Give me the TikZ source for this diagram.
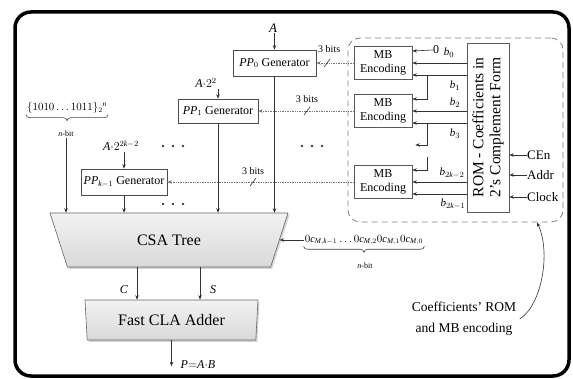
\documentclass[tikz,border=0pt]{standalone}
\usepackage{fontspec}
\setmainfont{Liberation Serif}
\usetikzlibrary{shapes.geometric, shadows, calc, arrows.meta}
\begin{document}
\begin{tikzpicture}[x=1pt, y=-1pt,
  >={Stealth[length=4.5pt,width=3.5pt]},
  gen/.style={draw=black!70, line width=0.7pt, inner sep=1pt, font=\fontsize{12}{14}\selectfont},
  mbbox/.style={draw=black!65, line width=0.7pt, minimum width=58pt, minimum height=33pt, align=center, font=\fontsize{12}{13.5}\selectfont, inner sep=0pt},
  sig/.style={draw=black!80, line width=0.6pt},
  bus/.style={draw=black!55, line width=0.7pt, densely dotted},
  lbl/.style={font=\fontsize{11}{12}\selectfont, inner sep=0pt},
  ctl/.style={font=\fontsize{13}{14}\selectfont, inner sep=0pt, anchor=west},
  bitslbl/.style={font=\fontsize{10}{12}\selectfont, inner sep=0pt},
  dotmark/.style={fill=black!75},
  bracepath/.style={draw=black!75, line width=0.6pt},
  blockshape/.style={trapezium, trapezium stretches body, shape border rotate=180, draw=black!60, line width=0.6pt, top color=black!5, bottom color=black!15, drop shadow={shadow xshift=1.5pt, shadow yshift=-2pt, opacity=0.35}, font=\fontsize{16}{18}\selectfont}
]
\useasboundingbox (0,0) rectangle (573,379);

% frame
\draw[line width=3.5pt, rounded corners=16pt] (15,12) rectangle (569,376);

% dashed region
\node[draw=black!50, dash pattern=on 6pt off 4pt, line width=0.8pt, rounded corners=12pt, minimum width=215pt, minimum height=184pt] (region) at (455.5,130) {};

% generators
\node[gen, minimum width=83pt, minimum height=26pt] (PP0) at (274.5,63) {$\mathit{PP}_0$ Generator};
\node[gen, minimum width=80pt, minimum height=24pt] (PP1) at (218,111) {$\mathit{PP}_1$ Generator};
\node[gen, minimum width=86pt, minimum height=26pt] (PPk) at (124,182) {$\mathit{PP}_{\mathit{k}-1}$ Generator};

% MB encoders
\node[mbbox] (MB1) at (383,63) {MB\\Encoding};
\node[mbbox] (MB2) at (383,111) {MB\\Encoding};
\node[mbbox] (MB3) at (383,182) {MB\\Encoding};

% ROM
\node[draw=black!65, line width=0.7pt, minimum width=42pt, minimum height=169pt] (ROM) at (488,127.5) {};
\node[rotate=90, align=center, font=\fontsize{15.5}{17}\selectfont] (romtxt) at (ROM.center) {ROM - Coefficients in\\2’s Complement Form};

% ports
\foreach \m in {1,2,3}{
  \coordinate (m\m a) at ($(MB\m.east)+(0,-12)$);
  \coordinate (m\m b) at (MB\m.east);
  \coordinate (m\m c) at ($(MB\m.east)+(0,12)$);
}

% ROM -> MB
\node[font=\fontsize{12}{12}\selectfont, inner sep=0pt] (zero) at (436,50) {0};
\draw[sig,->] (zero.west) -- (m1a);
\draw[sig,->] (ROM.west |- m1b) -- (m1b);
\draw[sig,->] (ROM.west |- m1c) -- (m1c);
\draw[sig,->] (ROM.west |- m2b) -- (m2b);
\draw[sig,->] (ROM.west |- m2c) -- (m2c);
\draw[sig,->] (ROM.west |- m3b) -- (m3b);
\draw[sig,->] (ROM.west |- m3c) -- (m3c);
\coordinate (br1) at ($(m1c)+(15,0)$);
\draw[sig,->] (br1) |- (m2a);
\coordinate (br3) at ($(m2c)+(15,0)$);
\coordinate (d1) at ($(m2c)+(3,22)$);
\draw[sig,->] (br3) |- (d1);
\coordinate (br5) at ($(m3a)+(15,-13)$);
\draw[sig,->] (br5) |- (m3a);

\node[lbl] (lb0) at (449,53) {$\mathit{b}_0$};
\node[lbl] (lb1) at (455,86) {$\mathit{b}_1$};
\node[lbl] (lb2) at (455,103) {$\mathit{b}_2$};
\node[lbl] (lb3) at (455,134) {$\mathit{b}_3$};
\node[lbl] (lbk2) at (452,173) {$\mathit{b}_{2\mathit{k}-2}$};
\node[lbl] (lbk1) at (453,204) {$\mathit{b}_{2\mathit{k}-1}$};

% MB -> PP
\draw[bus,->] (MB1.west) -- (PP0.east);
\draw[bus,->] (MB2.west) -- (PP1.east);
\draw[bus,->] (MB3.west) -- (PPk.east);
\coordinate (s1) at ($(PP0.east)!0.29!(MB1.west)$);
\coordinate (s2) at ($(PP1.east)!0.51!(MB2.west)$);
\coordinate (s3) at ($(PPk.east)!0.46!(MB3.west)$);
\foreach \s in {s1,s2,s3}{
  \draw[sig] ($(\s)+(-3,4)$) -- ($(\s)+(3,-4)$);
}
\node[bitslbl] (t1) at ($(s1)+(2,-14)$) {3 bits};
\node[bitslbl] (t2) at ($(s2)+(0,-12)$) {3 bits};
\node[bitslbl] (t3) at ($(s3)+(0,-11)$) {3 bits};

% top inputs
\node[font=\fontsize{13}{13}\selectfont, inner sep=1pt] (inA) at (273,28) {$\mathit{A}$};
\draw[sig,->] (inA.south -| PP0.north) -- (PP0.north);
\node[font=\fontsize{12}{13}\selectfont, inner sep=1pt] (inA1) at (206,83) {$\mathit{A}{\cdot}2^2$};
\draw[sig,->] (inA1.south -| PP1.north) -- (PP1.north);
\node[font=\fontsize{12}{13}\selectfont, inner sep=1pt] (inAk) at (121,146) {$\mathit{A}{\cdot}2^{2\mathit{k}-2}$};
\draw[sig,->] (inAk.south -| PPk.north) -- (PPk.north);

% CSA tree
\node[blockshape, trapezium angle=45, minimum width=238pt, minimum height=54pt] (CSA) at (169,240) {CSA Tree};

% left constant
\node[font=\fontsize{10.5}{12}\selectfont, inner sep=1pt] (bitsL) at (67,108) {$\{1010\ldots1011\}_2{}^{\mathit{n}}$};
\coordinate (lw) at (bitsL.south west);
\coordinate (le) at (bitsL.south east);
\coordinate (lm) at (bitsL.south);
\draw[bracepath] (lw) to[out=-90,in=180] ($(lw)+(4,3)$) -- ($(lm)+(-4,3)$) to[out=0,in=90] ($(lm)+(0,6)$) to[out=90,in=180] ($(lm)+(4,3)$) -- ($(le)+(-4,3)$) to[out=0,in=-90] (le);
\node[font=\fontsize{8}{8}\selectfont, inner sep=1pt] (nbitL) at (66,134) {$\mathit{n}$-bit};
\draw[sig,->] (nbitL.south) -- (nbitL.south |- CSA.north);

\draw[sig,->] (PPk.south) -- (PPk.south |- CSA.north);
\draw[sig,->] (PP1.south) -- (PP1.south |- CSA.north);
\draw[sig,->] (PP0.south) -- (PP0.south |- CSA.north);

% dots
\foreach \cx/\cy in {163/146, 173/146, 183/146, 302/146, 312/146, 322/146, 163/204, 173/204, 183/204}{
  \fill[dotmark] (\cx,\cy) circle (1.4pt);
}

% right constant
\node[font=\fontsize{10.5}{12}\selectfont, inner sep=1pt] (cbits) at (364,240) {$0\mathit{c}_{\mathit{M},\mathit{k}-1}\ldots0\mathit{c}_{\mathit{M},2}0\mathit{c}_{\mathit{M},1}0\mathit{c}_{\mathit{M},0}$};
\coordinate (rw) at (cbits.south west);
\coordinate (re) at (cbits.south east);
\coordinate (rm) at (cbits.south);
\draw[bracepath] (rw) to[out=-90,in=180] ($(rw)+(4,3)$) -- ($(rm)+(-4,3)$) to[out=0,in=90] ($(rm)+(0,6)$) to[out=90,in=180] ($(rm)+(4,3)$) -- ($(re)+(-4,3)$) to[out=0,in=-90] (re);
\node[font=\fontsize{8}{8}\selectfont, inner sep=1pt] (nbitR) at (365,266) {$\mathit{n}$-bit};
\draw[sig,->] (cbits.west) -- (cbits.west -| CSA.east);

% CLA
\node[blockshape, trapezium angle=83, minimum width=173pt, minimum height=40pt] (CLA) at (171.5,320) {Fast CLA Adder};
\coordinate (cC) at ([xshift=-32pt]CSA.south);
\coordinate (cS) at ([xshift=31pt]CSA.south);
\draw[sig,->] (cC) -- (cC |- CLA.north);
\draw[sig,->] (cS) -- (cS |- CLA.north);
\node[lbl, font=\fontsize{12}{12}\selectfont] (lC) at (124,290) {$\mathit{C}$};
\node[lbl, font=\fontsize{12}{12}\selectfont] (lS) at (213,290) {$\mathit{S}$};
\coordinate (pout) at ($(CLA.south)+(0,26)$);
\draw[sig,->] (CLA.south) -- (pout);
\node[lbl, font=\fontsize{12}{12}\selectfont, anchor=west] (lP) at ($(pout)+(9,-2)$) {$\mathit{P}{=}\mathit{A}{\cdot}\mathit{B}$};

% control inputs
\node[ctl] (cen) at (527,155) {CEn};
\node[ctl] (addr) at (527,175) {Addr};
\node[ctl] (clk) at (527,197) {Clock};
\draw[sig,->] (cen.west) -- (cen.west -| ROM.east);
\draw[sig,->] (addr.west) -- (addr.west -| ROM.east);
\draw[sig,->] (clk.west) -- (clk.west -| ROM.east);

% annotation
\node[align=center, font=\fontsize{13.5}{21}\selectfont] (coef) at (464,319) {Coefficients’ ROM\\and MB encoding};
\draw[sig,->] (coef.east) .. controls (542,305) and (551,252) .. ([xshift=81.5pt]region.south);
\end{tikzpicture}
\end{document}
